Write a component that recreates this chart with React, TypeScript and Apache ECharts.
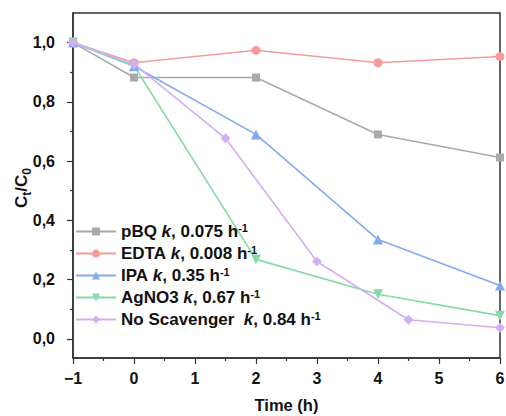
import React, { useEffect, useRef } from "react";
import * as echarts from "echarts";

const seriesNames = ["pBQ", "EDTA", "IPA", "AgNO3", "No Scavenger"];
const rateLabels = ["0.075", "0.008", "0.35", "0.67", "0.84"];
const colors = ["#a9a9a9", "#f89a9a", "#82aaf0", "#86daa6", "#d4aef2"];

const pbqX = [-1, 0, 2, 4, 6];
const pbqY = [1.0, 0.882, 0.882, 0.69, 0.612];
const edtaX = [-1, 0, 2, 4, 6];
const edtaY = [1.0, 0.932, 0.974, 0.932, 0.953];
const ipaX = [-1, 0, 2, 4, 6];
const ipaY = [1.0, 0.92, 0.69, 0.335, 0.18];
const agX = [-1, 0, 2, 4, 6];
const agY = [1.0, 0.922, 0.268, 0.15, 0.078];
const noX = [-1, 0, 1.5, 3, 4.5, 6];
const noY = [1.0, 0.928, 0.677, 0.261, 0.064, 0.037];

const yMajor = [0, 0.2, 0.4, 0.6, 0.8, 1.0];
const yMinor = [0.1, 0.3, 0.5, 0.7, 0.9];

const FONT = "Arial, 'Liberation Sans', sans-serif";

export default function App() {
  const ref = useRef<HTMLDivElement>(null);
  useEffect(() => {
    if (!ref.current) return;
    const chart = echarts.init(ref.current, null, { renderer: "svg" });
    const xs = [pbqX, edtaX, ipaX, agX, noX];
    const ys = [pbqY, edtaY, ipaY, agY, noY];
    const symbols = ["rect", "circle", "triangle", "triangle", "diamond"];
    const sizes = [8, 9, 10, 10, 10];
    const rotates = [0, 0, 0, 180, 0];
    const series = seriesNames.map((name, i) => ({
      name,
      type: "line",
      data: xs[i].map((x, j) => [x, ys[i][j]]),
      symbol: symbols[i],
      symbolSize: sizes[i],
      symbolRotate: rotates[i],
      showAllSymbol: true,
      lineStyle: { color: colors[i], width: 1.6 },
      itemStyle: { color: colors[i] },
      clip: true,
    }));
    const axisColor = "#333";
    const option: any = {
      animation: false,
      backgroundColor: "#fff",
      grid: {
        left: 73,
        right: 6,
        top: 13,
        bottom: 58,
        show: true,
        containLabel: false,
        outerBoundsMode: "none",
        borderColor: axisColor,
        borderWidth: 1.5,
      },
      graphic: [
        {
          type: "text",
          x: 21,
          y: 188,
          rotation: Math.PI / 2,
          style: {
            text: "{a|C}{s|t}{a|/C}{s|0}",
            align: "center",
            verticalAlign: "middle",
            rich: {
              a: { fontFamily: FONT, fontWeight: "bold", fontSize: 17, fill: "#111", lineHeight: 24, verticalAlign: "middle" },
              s: { fontFamily: FONT, fontWeight: "bold", fontSize: 12, fill: "#111", lineHeight: 12, verticalAlign: "bottom" },
            },
          },
        },
      ],
      legend: {
        orient: "vertical",
        left: 75,
        top: 222,
        padding: 0,
        itemWidth: 40,
        itemHeight: 10,
        itemGap: 3,
        data: seriesNames,
        formatter: (name: string) => {
          const i = seriesNames.indexOf(name);
          const gap = name === "No Scavenger" ? "  " : " ";
          return `{n|${name}}{n|${gap}}{k|k}{n|, ${rateLabels[i]} h}{s|-1}`;
        },
        textStyle: {
          fontFamily: FONT,
          fontWeight: "bold",
          fontSize: 17,
          color: "#111",
          lineHeight: 19,
          rich: {
            n: { fontFamily: FONT, fontWeight: "bold", fontSize: 17, color: "#111", lineHeight: 19 },
            k: { fontFamily: FONT, fontWeight: "bold", fontStyle: "italic", fontSize: 17, color: "#111", lineHeight: 19 },
            s: { fontFamily: FONT, fontWeight: "bold", fontSize: 11, color: "#111", lineHeight: 19, verticalAlign: "top", padding: [0, 0, 6, 0] },
          },
        },
      },
      xAxis: {
        type: "value",
        min: -1,
        max: 6,
        interval: 1,
        name: "Time (h)",
        nameLocation: "middle",
        nameGap: 38,
        nameTextStyle: { fontFamily: FONT, fontWeight: "bold", fontSize: 16.5, lineHeight: 18, color: "#111" },
        axisLine: { show: true, onZero: false, lineStyle: { color: axisColor, width: 1.5 } },
        axisTick: { show: true, length: 6, lineStyle: { color: axisColor, width: 1.2 } },
        minorTick: { show: true, splitNumber: 2, length: 3, lineStyle: { color: axisColor, width: 1.2 } },
        splitLine: { show: false },
        axisLabel: {
          margin: 12,
          fontFamily: FONT,
          fontWeight: "bold",
          fontSize: 16,
          color: "#111",
          formatter: (v: number) => (v < 0 ? "\u2212" + -v : String(v)),
        },
      },
      yAxis: [
        {
          type: "value",
          min: -0.065,
          max: 1.1,
          position: "left",
          axisLine: { show: true, onZero: false, lineStyle: { color: axisColor, width: 1.5 } },
          axisTick: { show: true, length: 6, interval: 0, customValues: yMajor, lineStyle: { color: axisColor, width: 1.2 } },
          splitLine: { show: false },
          axisLabel: {
            margin: 18,
            interval: 0,
            customValues: yMajor,
            fontFamily: FONT,
            fontWeight: "bold",
            fontSize: 16,
            color: "#111",
            formatter: (v: number) => v.toFixed(1).replace(".", ","),
          },
        },
        {
          type: "value",
          min: -0.065,
          max: 1.1,
          position: "left",
          axisLine: { show: false, onZero: false },
          axisTick: { show: true, length: 3, interval: 0, customValues: yMinor, lineStyle: { color: axisColor, width: 1.2 } },
          axisLabel: { show: false, interval: 0, customValues: yMinor },
          splitLine: { show: false },
        },
      ],
      series,
    };
    chart.setOption(option);
    return () => chart.dispose();
  }, []);
  return <div ref={ref} style={{ width: 506, height: 416, position: "absolute", left: 0, top: 0 }} />;
}
